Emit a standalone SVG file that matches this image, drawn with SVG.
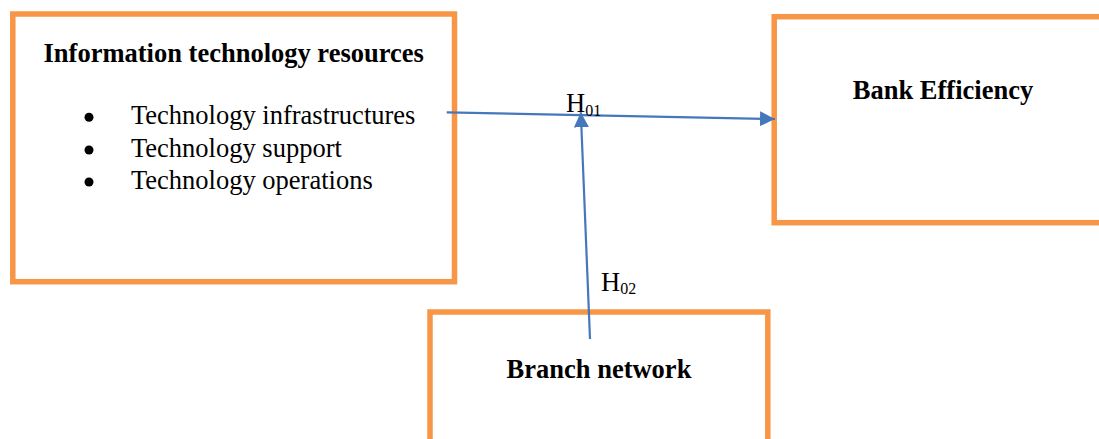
<svg xmlns="http://www.w3.org/2000/svg" width="1099" height="439" viewBox="0 0 1099 439">
<style>
.box{fill:#fff;stroke:#F79646;stroke-width:5.5}
.t{font-family:"Liberation Serif","Times New Roman",serif;font-size:26.5px;fill:#000}
.b{font-weight:bold;text-anchor:middle}
.sub{font-size:16px}
.conn{stroke:#4677BA;stroke-width:2.2;fill:none}
.dot{fill:#000}
</style>
<defs>
<marker id="arr" markerUnits="userSpaceOnUse" markerWidth="16" markerHeight="16" refX="15" refY="7.5" orient="auto">
<path d="M0,0 L15,7.5 L0,15 Z" fill="#4677BA"/>
</marker>
</defs>
<g id="node-it">
<rect class="box" x="12.8" y="14" width="441.7" height="267.7"/>
<text class="t b" x="233.7" y="61.5">Information technology resources</text>
<circle class="dot" cx="89" cy="117.3" r="4.5"/>
<circle class="dot" cx="89" cy="150" r="4.5"/>
<circle class="dot" cx="89" cy="182" r="4.5"/>
<text class="t" x="131" y="124">Technology infrastructures</text>
<text class="t" x="131" y="156.5">Technology support</text>
<text class="t" x="131" y="188.5">Technology operations</text>
</g>
<g id="node-bank">
<rect class="box" x="774.2" y="16.7" width="340" height="206"/>
<text class="t b" x="943" y="99">Bank Efficiency</text>
</g>
<g id="node-branch">
<rect class="box" x="430" y="312" width="337.8" height="200"/>
<text class="t b" x="599" y="378.3">Branch network</text>
</g>
<g id="connectors">
<line class="conn" x1="446.7" y1="112.3" x2="775" y2="119" marker-end="url(#arr)"/>
<line class="conn" x1="590" y1="339" x2="580.8" y2="112.3" marker-end="url(#arr)"/>
<text class="t" x="566" y="112.3">H<tspan class="sub" dy="3.7">01</tspan></text>
<text class="t" x="601" y="290.7">H<tspan class="sub" dy="3.6">02</tspan></text>
</g>
</svg>
